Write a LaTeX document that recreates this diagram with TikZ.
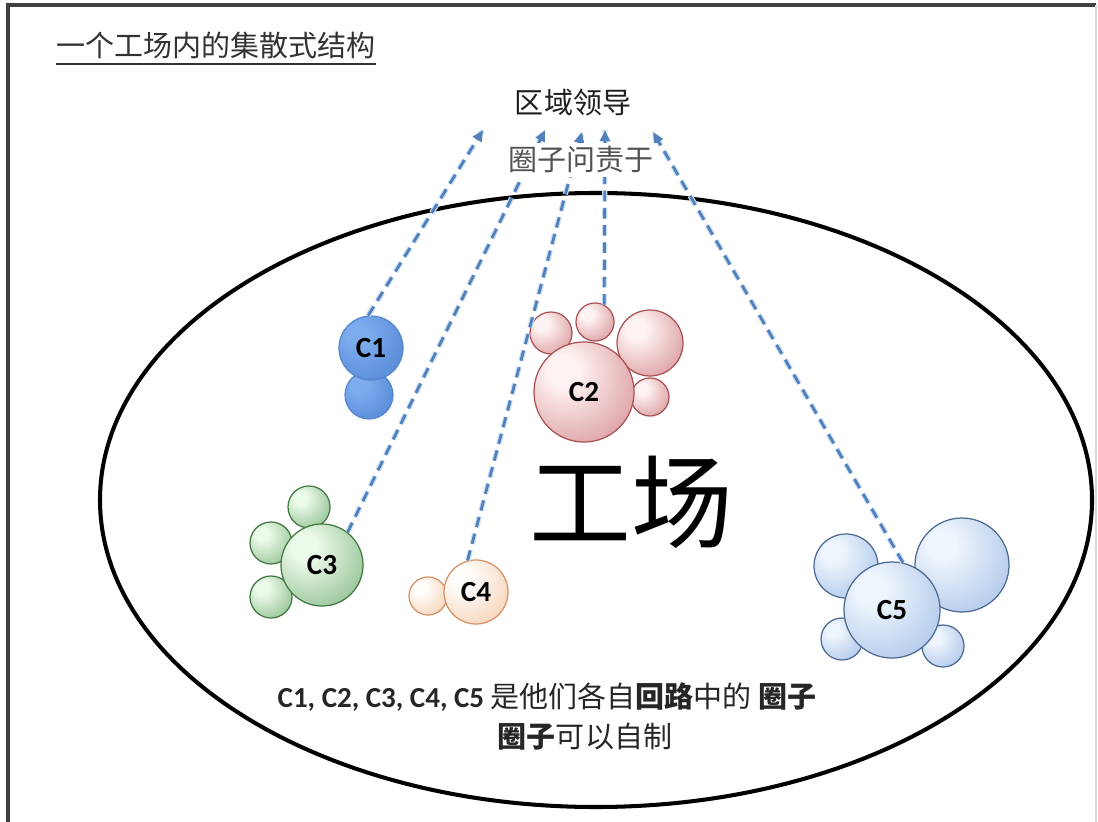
\documentclass[tikz,border=0pt]{standalone}
\usepackage{fontspec}
\setmainfont{Carlito}
\newfontfamily\cjk{Noto Sans CJK SC}
\usetikzlibrary{arrows.meta}

% bubble palette
\definecolor{c1in}{RGB}{125,172,238}
\definecolor{c1out}{RGB}{62,115,200}
\definecolor{c1ln}{RGB}{85,135,205}
\definecolor{c2in}{RGB}{255,242,242}
\definecolor{c2out}{RGB}{196,105,108}
\definecolor{c2ln}{RGB}{170,80,84}
\definecolor{c3in}{RGB}{236,250,234}
\definecolor{c3out}{RGB}{95,160,95}
\definecolor{c3ln}{RGB}{65,120,65}
\definecolor{c4in}{RGB}{255,253,250}
\definecolor{c4out}{RGB}{240,185,145}
\definecolor{c4ln}{RGB}{212,145,100}
\definecolor{c5in}{RGB}{238,245,253}
\definecolor{c5out}{RGB}{135,172,222}
\definecolor{c5ln}{RGB}{78,105,145}
\definecolor{arrowblue}{RGB}{79,129,189}
\definecolor{arrowglow}{RGB}{205,222,242}

% radial shading with an off-centre highlight
\colorlet{bubin}{white}
\colorlet{bubout}{gray}
\pgfdeclareradialshading[bubin,bubout]{bubble}{\pgfpoint{-12bp}{12bp}}{%
  color(0bp)=(bubin); color(8bp)=(bubin); color(56bp)=(bubout); color(80bp)=(bubout)}

\tikzset{
  bub/.style n args={3}{/utils/exec={\colorlet{bubin}{#1}\colorlet{bubout}{#2}},
    shading=bubble, draw=#3, line width=0.35pt},
  hub/.style={circle, inner sep=0pt, font=\fontsize{8.3}{10}\selectfont\bfseries, text=black},
  link/.style={arrowblue, line width=0.8pt, dash pattern=on 3pt off 1.9pt,
    -{Triangle[length=3.2pt,width=2.8pt]},
    preaction={draw=arrowglow, line width=1.5pt, dash pattern=on 3pt off 1.9pt, arrows=-}},
  cjktext/.style={font=\cjk\fontsize{8.25}{11}\selectfont},
}

\begin{document}
\begin{tikzpicture}[x=0.01cm,y=-0.01cm]
\useasboundingbox (0,0) rectangle (1098,822);
\fill[white] (0,0) rectangle (1098,822);

% page frame
\draw[line width=0.9pt, black!75] (8,830) -- (8,5) -- (1096,5);
\draw[line width=0.5pt, black!15] (1096,5) -- (1096,830);

% title
\node[cjktext, anchor=west, text=black!80] (title) at (44,49) {\underline{一个工场内的集散式结构}};

% factory boundary
\draw[line width=1.15pt] (596,500) ellipse [x radius=496, y radius=307];

\node[cjktext, text=black!88] (lead) at (573,103) {区域领导};

\node[font=\cjk\fontsize{29}{30}\selectfont] (factory) at (631,502) {工场};

% circle C1
\path[bub={c1in}{c1out}{c1ln}] (369,395) circle[radius=24];
\node[hub, bub={c1in}{c1out}{c1ln}, minimum size=0.64cm] (c1) at (371,348) {C1};

% circle C2
\path[bub={c2in}{c2out}{c2ln}] (551,333) circle[radius=21];
\node[circle, inner sep=0pt, minimum size=0.38cm, bub={c2in}{c2out}{c2ln}] (c2top) at (595,322) {};
\path[bub={c2in}{c2out}{c2ln}] (650,343) circle[radius=33];
\path[bub={c2in}{c2out}{c2ln}] (650,397) circle[radius=19];
\node[hub, bub={c2in}{c2out}{c2ln}, minimum size=1.0cm] (c2) at (584,392) {C2};

% circle C3
\path[bub={c3in}{c3out}{c3ln}] (309,507) circle[radius=21];
\path[bub={c3in}{c3out}{c3ln}] (271,543) circle[radius=21];
\path[bub={c3in}{c3out}{c3ln}] (271,597) circle[radius=21];
\node[hub, bub={c3in}{c3out}{c3ln}, minimum size=0.82cm] (c3) at (322,565) {C3};

% circle C4
\path[bub={c4in}{c4out}{c4ln}] (428,596) circle[radius=19];
\node[hub, bub={c4in}{c4out}{c4ln}, minimum size=0.64cm] (c4) at (476,592) {C4};

% circle C5
\path[bub={c5in}{c5out}{c5ln}] (846,566) circle[radius=32];
\path[bub={c5in}{c5out}{c5ln}] (962,565) circle[radius=47];
\path[bub={c5in}{c5out}{c5ln}] (842,639) circle[radius=21];
\path[bub={c5in}{c5out}{c5ln}] (943,646) circle[radius=21];
\node[hub, bub={c5in}{c5out}{c5ln}, minimum size=0.96cm] (c5) at (892,610) {C5};

% accountability links
\coordinate (t1) at (483,130);
\coordinate (t2) at (545,130);
\coordinate (t3) at (582,132);
\coordinate (t4) at (605,130);
\coordinate (t5) at (653,132);
\draw[link] (c1.95) -- (t1);
\draw[link] (c3.52) -- (t2);
\draw[link] (c4.105) -- (t3);
\draw[link] (c2top.62) -- (t4);
\draw[link] (c5.77) -- (t5);

% label laid over the links
\node[cjktext, text=black!68, fill=white, inner sep=1pt] (resp) at (581,160) {圈子问责于};

% notes
\node[font=\fontsize{8.25}{11}\selectfont, text=black!85] (note1) at (547,697)
  {\textbf{C1, C2, C3, C4, C5} {\cjk 是他们各自\textbf{回路}中的 \textbf{圈子}}};
\node[cjktext, text=black!85] (note2) at (585,737) {\textbf{圈子}可以自制};
\end{tikzpicture}
\end{document}
